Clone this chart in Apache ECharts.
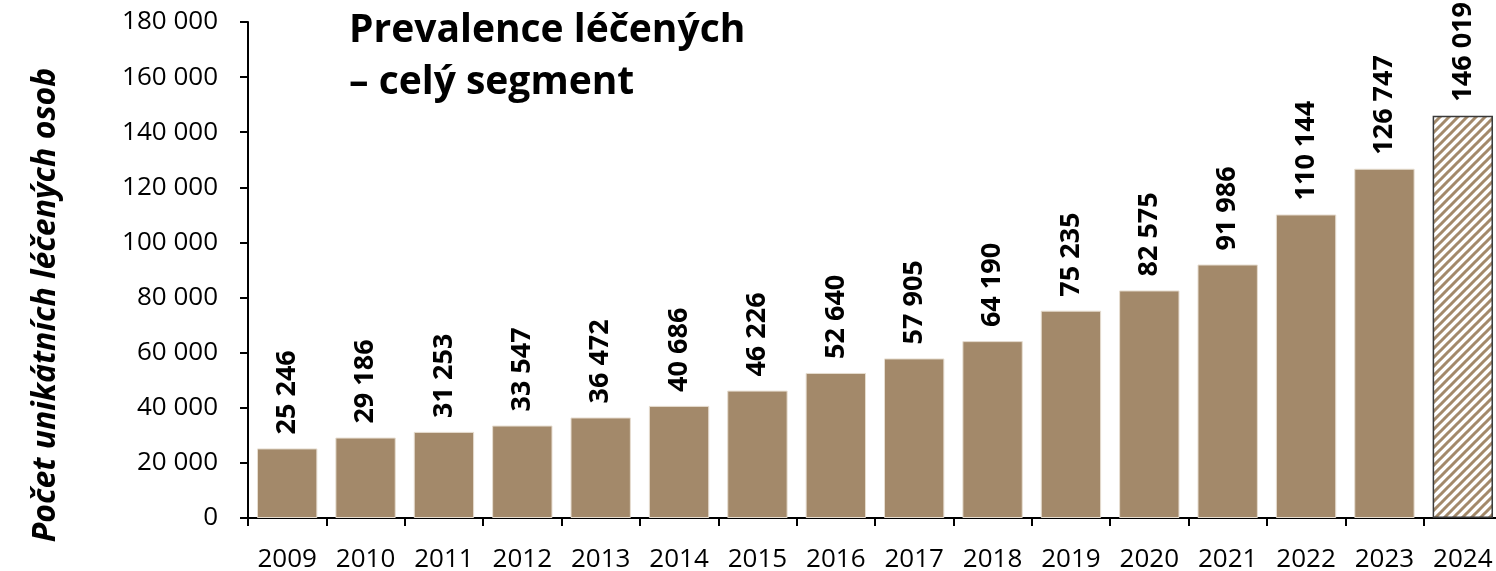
<!DOCTYPE html>
<html lang="cs">
<head>
    <meta charset="UTF-8">
    <title>Prevalence léčených</title>
    <script src="https://cdn.jsdelivr.net/npm/echarts@6/dist/echarts.min.js"></script>
    <style>
        html, body { margin: 0; padding: 0; background: #fff; }
        #chart { width: 1496px; height: 571px; }
    </style>
</head>
<body>
    <div id="chart"></div>
    <script>
        var years = ['2009', '2010', '2011', '2012', '2013', '2014', '2015', '2016',
            '2017', '2018', '2019', '2020', '2021', '2022', '2023', '2024']
        var patients = [25246, 29186, 31253, 33547, 36472, 40686, 46226, 52640,
            57905, 64190, 75235, 82575, 91986, 110144, 126747, 146019]
        var yTicks = [0, 20000, 40000, 60000, 80000, 100000, 120000, 140000, 160000, 180000]

        var font = '"Open Sans", "Noto Sans", sans-serif'
        var barColor = '#a3896a'

        // srafovani posledniho roku (odhad)
        var hatch = document.createElement('canvas')
        hatch.width = 9
        hatch.height = 9
        var hc = hatch.getContext('2d')
        hc.fillStyle = '#ffffff'
        hc.fillRect(0, 0, 9, 9)
        hc.strokeStyle = barColor
        hc.lineWidth = 3
        hc.beginPath()
        hc.moveTo(-2, 11); hc.lineTo(11, -2)
        hc.moveTo(-2, 2); hc.lineTo(2, -2)
        hc.moveTo(7, 11); hc.lineTo(11, 7)
        hc.stroke()

        function fmt(v) {
            return String(v).replace(/\B(?=(\d{3})+(?!\d))/g, ' ')
        }

        var data = patients.map(function(v, i) {
            if (i === patients.length - 1) {
                return {
                    value: v,
                    itemStyle: {
                        color: { image: hatch, repeat: 'repeat' },
                        borderColor: '#3a3a3a',
                        borderWidth: 1.5
                    }
                }
            }
            return v
        })

        var chart = echarts.init(document.getElementById('chart'))
        chart.setOption({
            animation: false,
            grid: { left: 248, width: 1254, top: 22, bottom: 53, outerBoundsMode: 'none' },
            title: {
                text: 'Prevalence léčených\n– celý segment',
                left: 344,
                top: 0,
                textStyle: {
                    fontFamily: font,
                    fontWeight: 'bold',
                    fontSize: 39,
                    lineHeight: 52,
                    color: '#000'
                }
            },
            xAxis: {
                type: 'category',
                data: years,
                axisLine: { lineStyle: { color: '#000', width: 2 } },
                axisTick: { show: true, length: 8, lineStyle: { color: '#000', width: 2 } },
                axisLabel: {
                    fontFamily: font,
                    fontSize: 26,
                    color: '#000',
                    margin: 29,
                    interval: 0
                }
            },
            yAxis: {
                type: 'value',
                min: 0,
                max: 180000,
                interval: 20000,
                name: 'Počet unikátních léčených osob',
                nameLocation: 'middle',
                nameGap: 186,
                nameTextStyle: {
                    fontFamily: font,
                    fontSize: 32,
                    fontWeight: 'bold',
                    fontStyle: 'italic',
                    color: '#000',
                    padding: [0, 70, 0, 0]
                },
                splitLine: { show: false },
                axisLine: { show: true, lineStyle: { color: '#000', width: 2 } },
                axisTick: { show: true, length: 8, lineStyle: { color: '#000', width: 2 } },
                axisLabel: {
                    fontFamily: font,
                    fontSize: 26,
                    color: '#000',
                    margin: 30,
                    formatter: function(v) {
                        return yTicks.indexOf(v) >= 0 ? fmt(v) : ''
                    }
                }
            },
            series: [{
                type: 'bar',
                data: data,
                barWidth: '77%',
                itemStyle: {
                    color: barColor,
                    borderColor: '#e6ddd0',
                    borderWidth: 1
                },
                label: {
                    show: true,
                    position: 'top',
                    rotate: 90,
                    align: 'left',
                    verticalAlign: 'middle',
                    distance: 14,
                    fontFamily: font,
                    fontSize: 27,
                    fontWeight: 'bold',
                    color: '#000',
                    formatter: function(p) {
                        return fmt(p.value)
                    }
                }
            }]
        })
    </script>
</body>
</html>
